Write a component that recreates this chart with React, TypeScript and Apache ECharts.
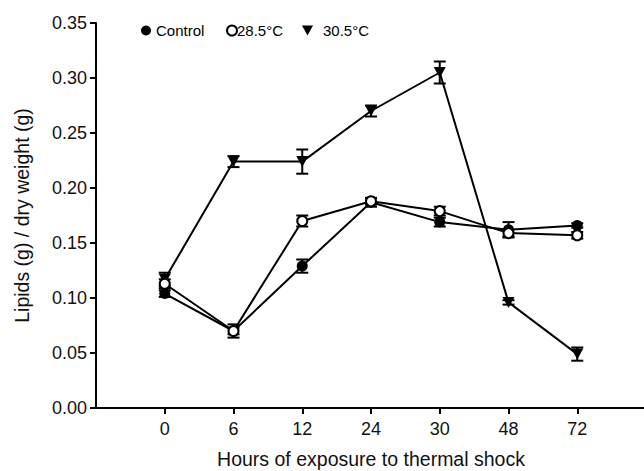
import React, { useEffect, useRef } from 'react';
import * as echarts from 'echarts';

const hours = ['0', '6', '12', '24', '30', '48', '72'];
const yTicks = [0, 0.05, 0.1, 0.15, 0.2, 0.25, 0.3, 0.35];

const controlVals = [0.104, 0.07, 0.129, 0.187, 0.169, 0.162, 0.166];
const controlErr = [0.003, 0.003, 0.006, 0.004, 0.004, 0.007, 0.002];

const t285Vals = [0.113, 0.07, 0.17, 0.188, 0.179, 0.159, 0.157];
const t285Err = [0.004, 0.006, 0.005, 0.003, 0.004, 0.003, 0.003];

const t305Vals = [0.117, 0.224, 0.224, 0.27, 0.305, 0.096, 0.049];
const t305Err = [0.006, 0.005, 0.011, 0.005, 0.01, 0.002, 0.006];

const FONT = '"Liberation Sans", Arial, sans-serif';
const TRI = 'path://M0,0L10,0L5,9Z';

export default function App() {
  const ref = useRef<HTMLDivElement>(null);

  useEffect(() => {
    document.body.style.margin = '0';
    const chart = echarts.init(ref.current!, null, { renderer: 'svg' });
    const axisCats = ['', ...hours, ''];
    const pts = (vals: number[]) => vals.map((v, i) => [i + 1, v]);
    const errs = (vals: number[], e: number[]) => vals.map((v, i) => [i + 1, v - e[i], v + e[i]]);

    const errSeries = (name: string, vals: number[], e: number[], z: number) => ({
      type: 'custom',
      name: name + ' err',
      z,
      silent: true,
      encode: { x: 0, y: [1, 2] },
      data: errs(vals, e),
      renderItem: (params: any, api: any) => {
        const x = api.value(0);
        const lo = api.coord([x, api.value(1)]);
        const hi = api.coord([x, api.value(2)]);
        const w = 6;
        const style = { stroke: '#000', lineWidth: 2 };
        return {
          type: 'group',
          children: [
            { type: 'line', shape: { x1: lo[0], y1: lo[1], x2: hi[0], y2: hi[1] }, style },
            { type: 'line', shape: { x1: hi[0] - w, y1: hi[1], x2: hi[0] + w, y2: hi[1] }, style },
            { type: 'line', shape: { x1: lo[0] - w, y1: lo[1], x2: lo[0] + w, y2: lo[1] }, style },
          ],
        };
      },
    });

    const legendBase = {
      selectedMode: false,
      itemWidth: 10,
      itemHeight: 10,
      top: 18,
      textStyle: { fontSize: 15, color: '#000', fontFamily: FONT },
    };

    chart.setOption({
      animation: false,
      backgroundColor: '#fff',
      textStyle: { fontFamily: FONT },
      grid: { left: 96, top: 23, bottom: 63, right: -2, containLabel: false, outerBoundsMode: 'none' },
      legend: [
        {
          ...legendBase,
          left: 136,
          data: [{ name: 'Control', icon: 'circle', itemStyle: { color: '#000', borderWidth: 0 } }],
        },
        {
          ...legendBase,
          left: 221,
          data: [{ name: '28.5°C', icon: 'circle', itemStyle: { color: '#fff', borderColor: '#000', borderWidth: 2 } }],
          textStyle: { ...legendBase.textStyle, padding: [0, 0, 0, -5] },
        },
        {
          ...legendBase,
          left: 297,
          itemWidth: 11,
          data: [{ name: '30.5°C', icon: TRI, itemStyle: { color: '#000', borderWidth: 0 } }],
          textStyle: { ...legendBase.textStyle, padding: [0, 0, 0, 5] },
        },
      ],
      xAxis: {
        type: 'category',
        data: axisCats,
        boundaryGap: false,
        axisLine: { show: true, lineStyle: { color: '#000', width: 2 } },
        axisTick: {
          show: true,
          length: 6,
          interval: (i: number) => i >= 1 && i <= hours.length,
          lineStyle: { color: '#000', width: 2 },
        },
        axisLabel: { interval: 0, fontSize: 18, color: '#111', margin: 12, fontFamily: FONT },
        splitLine: { show: false },
        name: 'Hours of exposure to thermal shock',
        nameLocation: 'middle',
        nameGap: 41,
        nameTextStyle: { fontSize: 19.5, color: '#111', fontFamily: FONT },
      },
      yAxis: {
        type: 'value',
        min: yTicks[0],
        max: yTicks[yTicks.length - 1],
        interval: 0.05,
        axisLine: { show: true, lineStyle: { color: '#000', width: 2 } },
        axisTick: { show: true, length: 6, lineStyle: { color: '#000', width: 2 } },
        axisLabel: {
          fontSize: 18,
          color: '#111',
          margin: 9,
          fontFamily: FONT,
          formatter: (v: number) => v.toFixed(2),
        },
        splitLine: { show: false },
        name: 'Lipids (g) / dry weight (g)',
        nameLocation: 'middle',
        nameGap: 64,
        nameTextStyle: { fontSize: 19.5, color: '#111', fontFamily: FONT },
      },
      series: [
        errSeries('Control', controlVals, controlErr, 1),
        errSeries('28.5°C', t285Vals, t285Err, 1),
        errSeries('30.5°C', t305Vals, t305Err, 1),
        {
          type: 'line',
          name: '30.5°C',
          z: 2,
          data: pts(t305Vals),
          symbol: TRI,
          symbolSize: [12, 11],
          itemStyle: { color: '#000' },
          lineStyle: { color: '#000', width: 2 },
        },
        {
          type: 'line',
          name: 'Control',
          z: 3,
          data: pts(controlVals),
          symbol: 'circle',
          symbolSize: 11,
          itemStyle: { color: '#000' },
          lineStyle: { color: '#000', width: 2 },
        },
        {
          type: 'line',
          name: '28.5°C',
          z: 4,
          data: pts(t285Vals),
          symbol: 'circle',
          symbolSize: 10,
          itemStyle: { color: '#fff', borderColor: '#000', borderWidth: 2 },
          lineStyle: { color: '#000', width: 2 },
        },
      ],
    });
    return () => chart.dispose();
  }, []);

  return <div ref={ref} style={{ width: 644, height: 471 }} />;
}
